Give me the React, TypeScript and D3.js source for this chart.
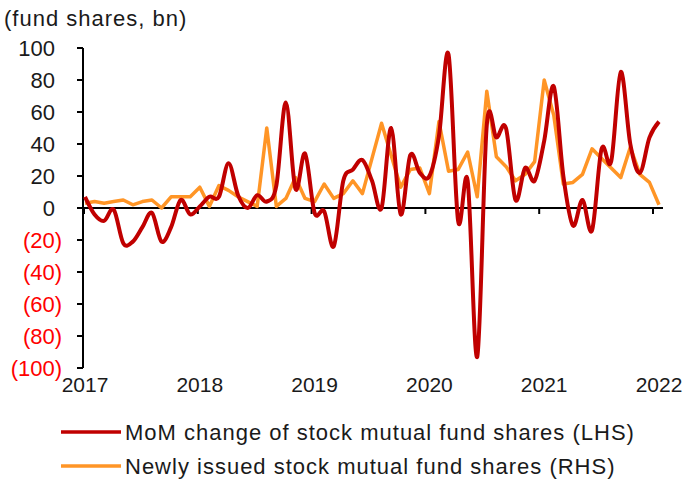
import React from 'react';
import * as d3 from 'd3';

// Monthly data, Jan 2017 – Jan 2022 (fund shares, bn)
const momChange: number[] = [
  7, -4, -8, -1, -22, -21, -12, -3, -21, -12, 5, -4,
  1, 7, 7, 28, 8, 0, 8, 4, 14, 66, 12, 34,
  -3, -2, -24, 17, 24, 30, 17, 0, 50, -4, 33, 22,
  20, 45, 96, -8, 17, -93, 52, 44, 50, 5, 25, 17,
  42, 76, 20, -11, 5, -14, 37, 29, 85, 40, 22, 44,
  54,
];
const newlyIssued: number[] = [
  3, 4, 3, 4, 5, 2, 4, 5, 0, 7, 7, 7,
  13, 1, 14, 11, 7, 4, 1, 50, 1, 6, 19, 6,
  4, 15, 6, 9, 17, 9, 31, 53, 33, 13, 24, 25,
  9, 54, 23, 24, 35, 7, 73, 32, 26, 17, 21, 29,
  80, 58, 15, 16, 21, 37, 31, 25, 19, 38, 21, 16,
  2,
];
const yTicks: number[] = [-100, -80, -60, -40, -20, 0, 20, 40, 60, 80, 100];
const years: number[] = [2017, 2018, 2019, 2020, 2021, 2022];
const seriesNames: string[] = [
  'MoM change of stock mutual fund shares (LHS)',
  'Newly issued stock mutual fund shares (RHS)',
];
const title = '(fund shares, bn)';

const RED = '#C00000';
const ORANGE = '#FF9526';
const FONT = 'Liberation Sans, Arial, sans-serif';

export default function App() {
  const W = 686;
  const H = 480;
  const xIdx = d3.scaleLinear().domain([0, momChange.length - 1]).range([85, 659]);
  const xYear = d3.scaleLinear().domain([2017, 2022]).range([84, 653]);
  const y = d3.scaleLinear().domain([-100, 100]).range([368, 48]);
  const axisX = 83;

  const redLine = d3
    .line<number>()
    .x((_, i) => xIdx(i))
    .y((d) => y(d))
    .curve(d3.curveCardinal.tension(0))(momChange) as string;
  const orangeLine = d3
    .line<number>()
    .x((_, i) => xIdx(i))
    .y((d) => y(d))(newlyIssued) as string;

  const fmt = (v: number) => (v < 0 ? `(${-v})` : `${v}`);

  return (
    <svg
      width={W}
      height={H}
      style={{ position: 'absolute', left: 0, top: 0, background: '#fff' }}
      fontFamily={FONT}
    >
      <text x={4} y={26} fontSize={22} letterSpacing={1} fill="#1a1a1a">
        {title}
      </text>

      {/* y axis */}
      <line x1={axisX} x2={axisX} y1={y(100)} y2={y(-100)} stroke="#000" strokeWidth={2} />
      {yTicks.map((t) => (
        <g key={t}>
          <line x1={axisX - 6} x2={axisX} y1={y(t)} y2={y(t)} stroke="#000" strokeWidth={2} />
          <text
            x={t < 0 ? 62 : 55}
            y={y(t) + 8}
            textAnchor="end"
            fontSize={22}
            fill={t < 0 ? '#FF0000' : '#1a1a1a'}
          >
            {fmt(t)}
          </text>
        </g>
      ))}

      {/* x axis at zero */}
      <line x1={axisX} x2={663} y1={y(0)} y2={y(0)} stroke="#000" strokeWidth={2} />
      {years.map((yr) => (
        <line
          key={yr}
          x1={xYear(yr)}
          x2={xYear(yr)}
          y1={y(0)}
          y2={y(0) + 6}
          stroke="#000"
          strokeWidth={2}
        />
      ))}
      {years.map((yr, k) => (
        <text key={'l' + yr} x={xIdx(k * 12)} y={392} textAnchor="middle" fontSize={21} fill="#1a1a1a">
          {yr}
        </text>
      ))}

      {/* series */}
      <path d={orangeLine} fill="none" stroke={ORANGE} strokeWidth={3.5} strokeLinejoin="round" />
      <path d={redLine} fill="none" stroke={RED} strokeWidth={4} strokeLinejoin="round" />

      {/* legend */}
      <line x1={61} x2={121} y1={432} y2={432} stroke={RED} strokeWidth={3.5} />
      <text x={125} y={440} fontSize={22} letterSpacing={1} fill="#1a1a1a">
        {seriesNames[0]}
      </text>
      <line x1={61} x2={121} y1={466} y2={466} stroke={ORANGE} strokeWidth={3.5} />
      <text x={125} y={474} fontSize={22} letterSpacing={1} fill="#1a1a1a">
        {seriesNames[1]}
      </text>
    </svg>
  );
}
